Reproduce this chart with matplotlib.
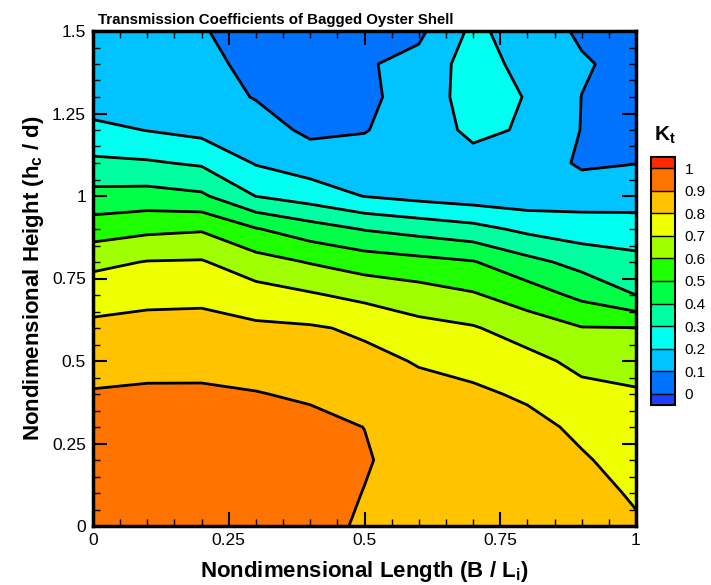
import numpy as np
import matplotlib.pyplot as plt
from matplotlib.colors import ListedColormap, BoundaryNorm
from matplotlib.ticker import MultipleLocator

plt.rcParams['font.family'] = ['Liberation Sans', 'DejaVu Sans']
plt.rcParams['mathtext.fontset'] = 'custom'
plt.rcParams['mathtext.rm'] = 'Liberation Sans'
plt.rcParams['mathtext.bf'] = 'Liberation Sans:bold'

# nondimensional length B/Li (columns) and height hc/d (rows)
length = [0.0, 0.1, 0.2, 0.3, 0.4, 0.5, 0.6, 0.7, 0.8, 0.9, 1.0]
height = [0.0, 0.1, 0.2, 0.3, 0.4, 0.5, 0.6, 0.7, 0.8, 0.9, 1.0, 1.1, 1.2, 1.3, 1.4, 1.5]

# transmission coefficient Kt, one row per height
kt = [
    [0.96, 0.97, 0.97, 0.96, 0.95, 0.88, 0.87, 0.86, 0.85, 0.84, 0.81],
    [0.96, 0.97, 0.97, 0.96, 0.95, 0.897, 0.86, 0.85, 0.845, 0.83, 0.79],
    [0.95, 0.96, 0.96, 0.95, 0.94, 0.91, 0.851, 0.84, 0.835, 0.81, 0.763],
    [0.93, 0.94, 0.94, 0.93, 0.927, 0.899, 0.84, 0.835, 0.83, 0.78, 0.736],
    [0.907, 0.914, 0.914, 0.904, 0.887, 0.861, 0.825, 0.818, 0.785, 0.727, 0.71],
    [0.863, 0.871, 0.872, 0.860, 0.846, 0.823, 0.794, 0.766, 0.729, 0.675, 0.662],
    [0.820, 0.829, 0.830, 0.817, 0.810, 0.785, 0.729, 0.708, 0.654, 0.604, 0.602],
    [0.759, 0.776, 0.780, 0.742, 0.711, 0.673, 0.645, 0.610, 0.551, 0.476, 0.40],
    [0.675, 0.704, 0.708, 0.640, 0.594, 0.553, 0.530, 0.506, 0.429, 0.367, 0.331],
    [0.551, 0.578, 0.590, 0.506, 0.444, 0.394, 0.363, 0.332, 0.277, 0.246, 0.239],
    [0.432, 0.438, 0.416, 0.298, 0.253, 0.197, 0.17, 0.15, 0.14, 0.156, 0.161],
    [0.319, 0.311, 0.287, 0.193, 0.151, 0.144, 0.16, 0.17, 0.16, 0.085, 0.098],
    [0.228, 0.197, 0.171, 0.144, 0.08, 0.095, 0.15, 0.22, 0.19, 0.097, 0.08],
    [0.14, 0.15, 0.14, 0.095, 0.06, 0.08, 0.14, 0.245, 0.195, 0.099, 0.07],
    [0.14, 0.14, 0.12, 0.08, 0.05, 0.09, 0.13, 0.247, 0.166, 0.11, 0.07],
    [0.14, 0.13, 0.105, 0.07, 0.05, 0.07, 0.08, 0.221, 0.153, 0.085, 0.06],
]

levels = [0.0, 0.1, 0.2, 0.3, 0.4, 0.5, 0.6, 0.7, 0.8, 0.9, 1.0]
level_labels = ['0', '0.1', '0.2', '0.3', '0.4', '0.5', '0.6', '0.7', '0.8', '0.9', '1']
band_colors = ['#0073ff', '#00c3ff', '#00fff0', '#00ffa0', '#00ff46',
               '#1eff00', '#a0ff00', '#eeff00', '#ffc300', '#ff7300']
under_color = '#1f3fff'
over_color = '#ff2800'

cmap = ListedColormap(band_colors)
cmap.set_under(under_color)
cmap.set_over(over_color)
norm = BoundaryNorm(levels, cmap.N)

fig = plt.figure(figsize=(7.11, 5.85), dpi=100)
ax = fig.add_axes([93 / 711, 59 / 585, 543 / 711, 495 / 585])

X, Y = np.meshgrid(length, height)
Z = np.array(kt)
cf = ax.contourf(X, Y, Z, levels=levels, cmap=cmap, norm=norm, extend='both')
ax.contour(X, Y, Z, levels=levels[1:-1], colors='k', linewidths=2)

ax.set_xlim(0, 1)
ax.set_ylim(0, 1.5)
ax.xaxis.set_major_locator(MultipleLocator(0.25))
ax.xaxis.set_minor_locator(MultipleLocator(0.05))
ax.yaxis.set_major_locator(MultipleLocator(0.25))
ax.yaxis.set_minor_locator(MultipleLocator(0.05))
ax.xaxis.set_major_formatter(plt.FuncFormatter(lambda v, p: f'{v:g}'))
ax.yaxis.set_major_formatter(plt.FuncFormatter(lambda v, p: f'{v:g}'))
ax.tick_params(which='both', direction='in', top=True, right=True, labelsize=12.5)
ax.tick_params(which='major', length=10, width=1.5, pad=5)
ax.tick_params(which='minor', length=5, width=1)
for sp in ax.spines.values():
    sp.set_linewidth(2.5)

ax.set_xlabel(r'Nondimensional Length (B / L$_\mathbf{i}$)', fontsize=16, fontweight='bold', labelpad=8)
ax.set_ylabel(r'Nondimensional Height (h$_\mathbf{c}$ / d)', fontsize=16, fontweight='bold', labelpad=4)

fig.text(98 / 711, 1 - 20 / 585, 'Transmission Coefficients of Bagged Oyster Shell',
         fontsize=10.8, fontweight='bold', va='center', ha='left')

cax = fig.add_axes([651 / 711, 180 / 585, 24 / 711, 248 / 585])
cb = fig.colorbar(cf, cax=cax, ticks=levels, extendrect=True, extendfrac=0.05, drawedges=True)
cb.set_ticklabels(level_labels)
cb.ax.tick_params(length=0, labelsize=11, pad=7)
cb.outline.set_linewidth(1.5)
cb.dividers.set_linewidth(1)
fig.text(665 / 711, 1 - 135 / 585, r'K$_\mathbf{t}$', fontsize=15, fontweight='bold',
         ha='center', va='center')

fig.savefig('out.png', dpi=100)
